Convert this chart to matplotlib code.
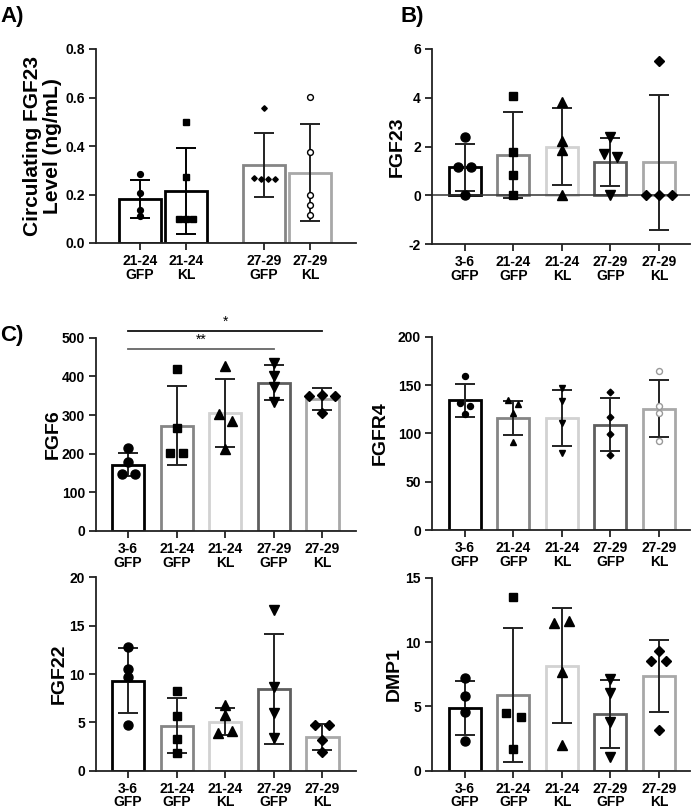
import matplotlib
matplotlib.use('Agg')
import matplotlib.pyplot as plt
import numpy as np

plt.rcParams['font.family'] = ['Liberation Sans', 'DejaVu Sans']
plt.rcParams['font.weight'] = 'bold'

# ---------------- data ----------------
a_labels = ['21-24\nGFP', '21-24\nKL', '27-29\nGFP', '27-29\nKL']
a_means = [0.183, 0.215, 0.321, 0.290]
a_sd = [0.078, 0.178, 0.132, 0.200]
a_points = [[0.285, 0.207, 0.137, 0.110],
            [0.500, 0.272, 0.100, 0.100, 0.097],
            [0.557, 0.270, 0.262, 0.265, 0.265],
            [0.603, 0.377, 0.200, 0.155, 0.117]]

labels5 = ['3-6\nGFP', '21-24\nGFP', '21-24\nKL', '27-29\nGFP', '27-29\nKL']

fgf23_means = [1.14, 1.65, 1.99, 1.35, 1.35]
fgf23_sd = [0.98, 1.78, 1.58, 0.99, 2.76]
fgf23_points = [[2.38, 1.14, 1.14, 0.0],
                [4.08, 1.77, 0.84, 0.0],
                [3.81, 2.23, 1.85, 0.0],
                [2.37, 1.71, 1.55, 0.0],
                [5.52, 0.0, 0.0, 0.0]]

fgf6_means = [172, 272, 306, 384, 342]
fgf6_sd = [31, 102, 88, 44.5, 28.5]
fgf6_points = [[214, 179, 147, 147],
               [419, 266, 203, 203],
               [426, 303, 285, 212],
               [435, 401, 373, 333],
               [349, 352, 349, 304]]

fgfr4_means = [134, 116, 116, 109, 125.5]
fgfr4_sd = [17.5, 17.5, 29, 27.5, 29.5]
fgfr4_points = [[159, 131, 128, 120],
                [134, 130, 121, 91],
                [147, 133, 111, 80],
                [143, 117, 99, 78],
                [164, 128, 121, 92]]

fgf22_means = [9.3, 4.66, 5.07, 8.45, 3.48]
fgf22_sd = [3.38, 2.87, 1.41, 5.72, 1.35]
fgf22_points = [[12.76, 10.5, 9.66, 4.7],
                [8.28, 5.66, 3.31, 1.79],
                [6.76, 5.76, 3.93, 4.14],
                [16.6, 8.62, 6.0, 3.38],
                [4.69, 4.69, 3.17, 1.93]]

dmp1_means = [4.9, 5.88, 8.16, 4.4, 7.36]
dmp1_sd = [2.1, 5.18, 4.49, 2.67, 2.82]
dmp1_points = [[7.2, 5.8, 4.56, 2.33],
               [13.52, 4.5, 4.15, 1.66],
               [11.45, 11.6, 7.67, 2.02],
               [7.1, 6.06, 3.78, 1.09],
               [9.33, 8.55, 8.55, 3.16]]

# ---------------- styling ----------------
W, H, DPI = 6.92, 8.08, 100
fig = plt.figure(figsize=(W, H), dpi=DPI)

edge5 = ['#000000', '#858585', '#d2d2d2', '#5e5e5e', '#a8a8a8']
mark5 = ['o', 's', '^', 'v', 'D']
size5 = [6.5, 6.3, 6.5, 6.5, 5.4]


def frac(l, t, r, b):
    return [l / 692, 1 - b / 808, (r - l) / 692, (b - t) / 808]


def swarm_x(ax, pos, vals, diam_px, sep_px):
    ylo, yhi = ax.get_ylim()
    xlo, xhi = ax.get_xlim()
    bb = ax.get_position()
    hpx = bb.height * H * DPI
    wpx = bb.width * W * DPI
    ypx = (np.asarray(vals, float) - ylo) / (yhi - ylo) * hpx
    xunit = wpx / (xhi - xlo)
    order = np.argsort(-ypx, kind='stable')
    groups, cur = [], [order[0]]
    for i in order[1:]:
        if abs(ypx[cur[-1]] - ypx[i]) < diam_px:
            cur.append(i)
        else:
            groups.append(cur)
            cur = [i]
    groups.append(cur)
    xs = np.full(len(vals), float(pos))
    for g in groups:
        g = sorted(g)
        n = len(g)
        for k, i in enumerate(g):
            xs[i] = pos + (k - (n - 1) / 2) * sep_px / xunit
    return xs


def panel(rect, pos, means, sds, points, labels, edges, markers, mfcs, mecs, ms,
          ylim, yticks, yfmt, ylabel, xlim, errc, width, diam, sep, lab_x,
          ylabsize=14, zero_line=False):
    ax = fig.add_axes(rect)
    ax.set_xlim(*xlim)
    ax.set_ylim(*ylim)
    ax.bar(pos, means, width=width, color='white', edgecolor=edges,
           linewidth=2.0, zorder=1)
    if zero_line:
        ax.axhline(0, color='#333333', lw=1.1, zorder=2)
    for i, p in enumerate(pos):
        ax.errorbar(p, means[i], yerr=sds[i], color=errc[i], capsize=7,
                    elinewidth=1.4, capthick=1.4, zorder=3)
        xs = swarm_x(ax, p, points[i], diam, sep)
        ax.plot(xs, points[i], ls='none', marker=markers[i], ms=ms[i],
                mfc=mfcs[i], mec=mecs[i], mew=1.0, zorder=4, clip_on=False)
    for s in ['top', 'right']:
        ax.spines[s].set_visible(False)
    for s in ['left', 'bottom']:
        ax.spines[s].set_linewidth(1.3)
        ax.spines[s].set_color('#222222')
    ax.set_yticks(yticks)
    ax.set_yticklabels([yfmt.format(v) for v in yticks])
    ax.set_xticks(pos)
    ax.set_xticklabels(labels, linespacing=0.95)
    ax.tick_params(axis='both', width=1.3, length=5, labelsize=10,
                   color='#222222', pad=3)
    for t in ax.get_xticklabels() + ax.get_yticklabels():
        t.set_fontweight('bold')
    ax.set_ylabel(ylabel, fontsize=ylabsize, fontweight='bold', linespacing=1.05)
    ax.yaxis.set_label_coords(lab_x, 0.5)
    return ax


# ---------- Panel A ----------
posA = [0, 1, 2.7, 3.7]
panel(frac(96, 49, 356, 243), posA, a_means, a_sd, a_points, a_labels,
      ['#000000', '#000000', '#858585', '#a8a8a8'],
      ['o', 's', 'D', 'o'],
      ['black', 'black', 'black', 'white'],
      ['black', 'black', 'black', 'black'],
      [4.2, 4.2, 2.8, 4.2],
      (0, 0.8), [0, 0.2, 0.4, 0.6, 0.8], '{:.1f}',
      'Circulating FGF23\nLevel (ng/mL)', (-0.96, 4.7),
      ['#000000', '#000000', '#222222', '#222222'], 0.9, 4.5, 7, -0.13,
      ylabsize=15)

pos5 = list(range(5))
black5 = ['black'] * 5
err5 = ['#222222'] * 5

# ---------- Panel B ----------
panel(frac(432, 49, 690, 244), pos5, fgf23_means, fgf23_sd, fgf23_points, labels5,
      edge5, mark5, black5, black5, size5,
      (-2, 6), [-2, 0, 2, 4, 6], '{:d}', 'FGF23', (-0.68, 4.64),
      err5, 0.66, 8, 13, -0.10, zero_line=True)

# ---------- FGF6 ----------
ax6 = panel(frac(96, 337.7, 356, 531), pos5, fgf6_means, fgf6_sd, fgf6_points, labels5,
            edge5, mark5, black5, black5, size5,
            (0, 500), [0, 100, 200, 300, 400, 500], '{:d}', 'FGF6', (-0.66, 4.69),
            err5, 0.66, 8, 13, -0.13)
# significance annotations
ax6.plot([0, 4], [517, 517], color='#111111', lw=1.3, clip_on=False)
ax6.text(2, 522, '*', ha='center', va='bottom', fontsize=10, fontweight='normal')
ax6.plot([0, 3], [471, 471], color='#666666', lw=1.3, clip_on=False)
ax6.text(1.5, 476, '**', ha='center', va='bottom', fontsize=10, fontweight='normal')

# ---------- FGFR4 ----------
panel(frac(432, 336.7, 690, 530), pos5, fgfr4_means, fgfr4_sd, fgfr4_points, labels5,
      edge5, ['o', '^', 'v', 'D', 'o'],
      ['black', 'black', 'black', 'black', 'white'],
      ['black', 'black', 'black', 'black', '#999999'],
      [4.3, 4.0, 4.0, 3.4, 4.3],
      (0, 200), [0, 50, 100, 150, 200], '{:d}', 'FGFR4', (-0.68, 4.64),
      err5, 0.66, 5, 10, -0.167)

# ---------- FGF22 ----------
panel(frac(96, 577.3, 356, 770.7), pos5, fgf22_means, fgf22_sd, fgf22_points, labels5,
      edge5, mark5, black5, black5, size5,
      (0, 20), [0, 5, 10, 15, 20], '{:d}', 'FGF22', (-0.66, 4.69),
      err5, 0.66, 7.5, 14, -0.108)

# ---------- DMP1 ----------
panel(frac(432, 577.7, 690, 770.7), pos5, dmp1_means, dmp1_sd, dmp1_points, labels5,
      edge5, mark5, black5, black5, size5,
      (0, 15), [0, 5, 10, 15], '{:d}', 'DMP1', (-0.68, 4.64),
      err5, 0.66, 8, 15, -0.112)

# panel letters
fig.text(0 / 692, 1 - 22 / 808, 'A)', fontsize=16, fontweight='bold', va='baseline')
fig.text(400 / 692, 1 - 22 / 808, 'B)', fontsize=16, fontweight='bold', va='baseline')
fig.text(0 / 692, 1 - 341 / 808, 'C)', fontsize=16, fontweight='bold', va='baseline')

fig.savefig('out.png', dpi=DPI)
